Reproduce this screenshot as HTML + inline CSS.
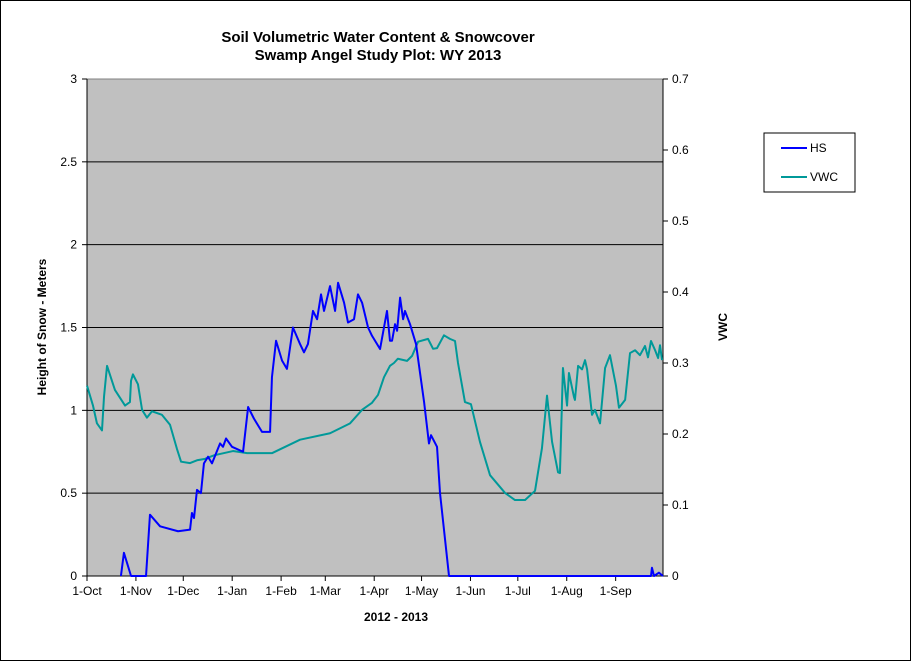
<!DOCTYPE html>
<html><head><meta charset="utf-8"><style>
body{margin:0;background:#fff;}
svg{display:block;font-family:"Liberation Sans",Arial,sans-serif;}
</style></head><body>
<svg id="chart" width="911" height="661" viewBox="0 0 911 661" xmlns="http://www.w3.org/2000/svg">
<rect x="0.5" y="0.5" width="910" height="660" fill="#fff" stroke="#000"/>
<text x="378" y="42" text-anchor="middle" font-size="15" font-weight="bold">Soil Volumetric Water Content &amp; Snowcover</text>
<text x="378" y="60" text-anchor="middle" font-size="15" font-weight="bold">Swamp Angel Study Plot: WY 2013</text>
<rect x="87" y="79" width="576" height="497" fill="#c0c0c0" stroke="#808080"/>
<g id="grid"></g><g id="axes"></g><g id="series"></g>
<text transform="translate(46,327) rotate(-90)" text-anchor="middle" font-size="12" font-weight="bold">Height of Snow - Meters</text>
<text transform="translate(727,327) rotate(-90)" text-anchor="middle" font-size="12" font-weight="bold">VWC</text>
<text x="396" y="621" text-anchor="middle" font-size="12" font-weight="bold">2012 - 2013</text>
<g>
<rect x="764" y="133" width="91" height="59" fill="#fff" stroke="#000"/>
<line x1="781" y1="148" x2="807" y2="148" stroke="#0000ff" stroke-width="2"/>
<text x="810" y="152" font-size="12">HS</text>
<line x1="781" y1="177" x2="807" y2="177" stroke="#009999" stroke-width="2"/>
<text x="810" y="181" font-size="12">VWC</text>
</g>
</svg>
<script>
const monthLabels=["1-Oct","1-Nov","1-Dec","1-Jan","1-Feb","1-Mar","1-Apr","1-May","1-Jun","1-Jul","1-Aug","1-Sep"];
const monthDays=[0,31,61,92,123,151,182,212,243,273,304,335];
const leftTicks=[0,0.5,1,1.5,2,2.5,3];
const leftTickLabels=["0","0.5","1","1.5","2","2.5","3"];
const rightTicks=[0,0.1,0.2,0.3,0.4,0.5,0.6,0.7];
const rightTickLabels=["0","0.1","0.2","0.3","0.4","0.5","0.6","0.7"];
const hsDays=[21.5,23.4,27.9,37.4,39.9,46.3,57.7,65.3,66.5,67.8,69.7,72.2,74.1,76.7,79.2,84.3,86.2,88.1,91.9,98.9,102.1,105.8,110.9,116,117.2,119.8,123.6,126.7,130.5,135,137.5,140,143.2,145.8,148.3,150.2,154,157.2,159.1,162.9,165.4,169.2,171.7,174.3,178.1,180.6,185.7,190.1,192,193.3,195.2,196.5,198.4,200.3,201.5,204.7,208.5,213.6,216.7,218,221.8,223.7,229.4,357.4,358,359.3,362.4,365];
const hsValues=[0,0.14,0,0,0.37,0.3,0.27,0.28,0.38,0.35,0.52,0.5,0.68,0.72,0.68,0.8,0.78,0.83,0.78,0.75,1.02,0.95,0.87,0.87,1.2,1.42,1.3,1.25,1.5,1.4,1.35,1.4,1.6,1.55,1.7,1.6,1.75,1.6,1.77,1.65,1.53,1.55,1.7,1.65,1.5,1.45,1.37,1.6,1.42,1.42,1.52,1.48,1.68,1.55,1.6,1.52,1.4,1.05,0.8,0.85,0.78,0.5,0,0,0.05,0,0.02,0];
const vwcDays=[0,3.8,6.3,9.5,10.8,12.7,17.7,24.1,27.2,27.9,29.1,32.3,34.9,38,41.2,47.5,52.6,57,59.6,65.3,69.7,74.8,80.5,92.5,101.4,117.2,135,154,166.7,174.3,180.6,184.4,188.2,192,194.5,197,202.8,206,209.8,216.1,219.3,221.8,226.2,230,233.2,235.1,239.5,243.3,249,255.4,264.9,271.2,277.6,283.9,288.3,291.5,294.7,298.5,299.7,301.6,304.2,305.4,308.6,309.2,311.2,313.7,315.6,316.9,320,321.9,325.1,328.3,331.4,335.2,337.1,341,344.1,347.3,350.4,353.6,355.5,357.4,360,361.9,363.1,364.4];
const vwcValues=[0.268,0.24,0.215,0.205,0.253,0.296,0.262,0.24,0.245,0.275,0.284,0.27,0.234,0.223,0.232,0.227,0.213,0.179,0.161,0.159,0.163,0.165,0.17,0.176,0.173,0.173,0.192,0.201,0.215,0.234,0.244,0.255,0.28,0.296,0.3,0.306,0.303,0.31,0.33,0.334,0.32,0.321,0.339,0.334,0.331,0.3,0.245,0.242,0.189,0.142,0.117,0.107,0.107,0.12,0.18,0.254,0.189,0.146,0.145,0.293,0.24,0.286,0.252,0.248,0.296,0.291,0.304,0.291,0.227,0.234,0.215,0.293,0.311,0.268,0.237,0.248,0.314,0.318,0.311,0.324,0.308,0.331,0.318,0.307,0.325,0.304];

const X0=87,X1=663,Y0=576,Y1=79;
const x=d=>X0+d*(X1-X0)/365;
const yL=v=>Y0-v*(Y0-Y1)/3;
const yR=v=>Y0-v*(Y0-Y1)/0.7;
const NS="http://www.w3.org/2000/svg";
function mk(parent,tag,attrs){const e=document.createElementNS(NS,tag);for(const k in attrs)e.setAttribute(k,attrs[k]);parent.appendChild(e);return e;}
const grid=document.getElementById('grid'),axes=document.getElementById('axes'),series=document.getElementById('series');
leftTicks.forEach((t,i)=>{
  if(t>0&&t<3){const g=mk(grid,'line',{x1:X0,x2:X1,y1:yL(t),y2:yL(t),stroke:'#000','stroke-width':1});
  
  }
  const tk=mk(axes,'line',{x1:X0-5,x2:X0,y1:yL(t),y2:yL(t),stroke:'#000'});
  
  
  const tx=mk(axes,'text',{x:X0-10,y:yL(t)+4,'text-anchor':'end','font-size':12});
  tx.textContent=leftTickLabels[i];
  
  
});
rightTicks.forEach((t,i)=>{
  const tk=mk(axes,'line',{x1:X1,x2:X1+5,y1:yR(t),y2:yR(t),stroke:'#000'});
  
  
  const tx=mk(axes,'text',{x:X1+9,y:yR(t)+4,'font-size':12});
  tx.textContent=rightTickLabels[i];
  
  
});
monthDays.forEach((d,i)=>{
  const tk=mk(axes,'line',{x1:x(d),x2:x(d),y1:Y0,y2:Y0+5,stroke:'#000'});
  
  
  const tx=mk(axes,'text',{x:x(d),y:Y0+19,'text-anchor':'middle','font-size':12});
  tx.textContent=monthLabels[i];
  
  
});
const ax=mk(axes,'path',{d:`M${X0},${Y1}V${Y0}H${X1}V${Y1}`,fill:'none',stroke:'#000'});


const vp=mk(series,'polyline',{points:vwcDays.map((d,i)=>x(d)+','+yR(vwcValues[i])).join(' '),fill:'none',stroke:'#009999','stroke-width':2,'stroke-linejoin':'round'});


const hp=mk(series,'polyline',{points:hsDays.map((d,i)=>x(d)+','+yL(hsValues[i])).join(' '),fill:'none',stroke:'#0000ff','stroke-width':2,'stroke-linejoin':'round'});


</script>
</body></html>
